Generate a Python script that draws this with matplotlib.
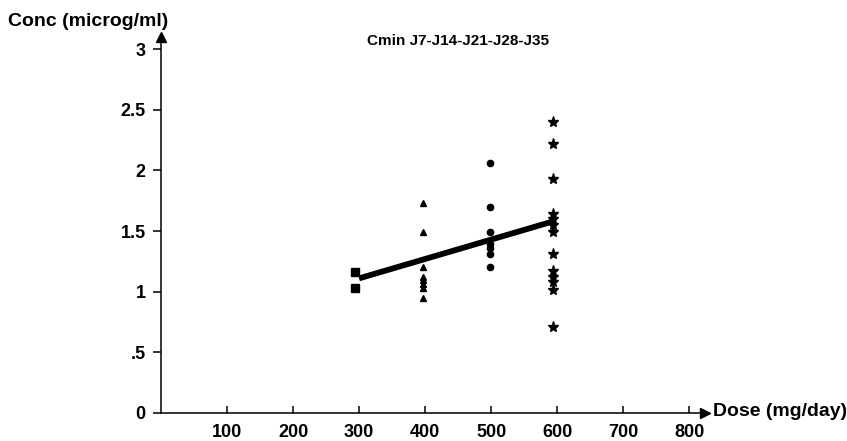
import matplotlib
matplotlib.use('Agg')
import matplotlib.pyplot as plt

# ── Data ──────────────────────────────────────────────────────────────────────
sq_dose = [294, 294]
sq_conc = [1.16, 1.03]

tri_dose = [397] * 8
tri_conc = [1.73, 1.49, 1.20, 1.12, 1.10, 1.06, 1.03, 0.95]

circ_dose = [498] * 7
circ_conc = [2.06, 1.70, 1.49, 1.39, 1.36, 1.31, 1.20]

star_dose = [594] * 13
star_conc = [2.40, 2.22, 1.93, 1.64, 1.60, 1.55, 1.49, 1.31, 1.17, 1.12, 1.08, 1.01, 0.71]

fit_dose = [300, 594]
fit_conc = [1.11, 1.58]

x_ticks = [100, 200, 300, 400, 500, 600, 700, 800]
y_ticks = [0, 0.5, 1, 1.5, 2, 2.5, 3]
y_tick_labels = ['0', '.5', '1', '1.5', '2', '2.5', '3']

# ── Figure ────────────────────────────────────────────────────────────────────
plt.rcParams['font.family'] = ['Liberation Sans', 'DejaVu Sans']
plt.rcParams['font.weight'] = 'bold'

fig = plt.figure(figsize=(8.47, 4.41), dpi=100)
ax = fig.add_axes([0.1901, 0.0635, 0.6423, 0.8526])

ax.plot(fit_dose, fit_conc, color='black', lw=4.2, solid_capstyle='butt', zorder=2)
ax.plot(sq_dose, sq_conc, 's', color='black', ms=6, zorder=3)
ax.plot(tri_dose, tri_conc, '^', color='black', ms=4.5, zorder=3)
ax.plot(circ_dose, circ_conc, 'o', color='black', ms=4.5, zorder=3)
ax.plot(star_dose, star_conc, '*', color='black', ms=8, zorder=3)

ax.set_xlim(0, 824)
ax.set_ylim(0, 3.1)

for side in ['top', 'right']:
    ax.spines[side].set_visible(False)
for side in ['left', 'bottom']:
    ax.spines[side].set_linewidth(1.1)

# arrow heads at the end of each axis
ax.plot(1, 0, '>', color='black', ms=7, transform=ax.get_yaxis_transform(), clip_on=False)
ax.plot(0, 1, '^', color='black', ms=7, transform=ax.get_xaxis_transform(), clip_on=False)

ax.set_xticks(x_ticks)
ax.set_xticklabels([str(v) for v in x_ticks])
ax.set_yticks(y_ticks)
ax.set_yticklabels(y_tick_labels)
ax.tick_params(axis='x', direction='in', length=5, width=1.1, labelsize=13, pad=8)
ax.tick_params(axis='y', direction='out', length=6, width=1.1, labelsize=13, pad=5)

fig.text(458 / 847, 1 - 41 / 441, 'Cmin J7-J14-J21-J28-J35', ha='center', va='center',
         fontsize=11, fontweight='bold')
fig.text(8 / 847, 1 - 21 / 441, 'Conc (microg/ml)', ha='left', va='center',
         fontsize=14, fontweight='bold')
fig.text(713 / 847, 1 - 411 / 441, 'Dose (mg/day)', ha='left', va='center',
         fontsize=14, fontweight='bold')

fig.savefig('out.png', dpi=100)
